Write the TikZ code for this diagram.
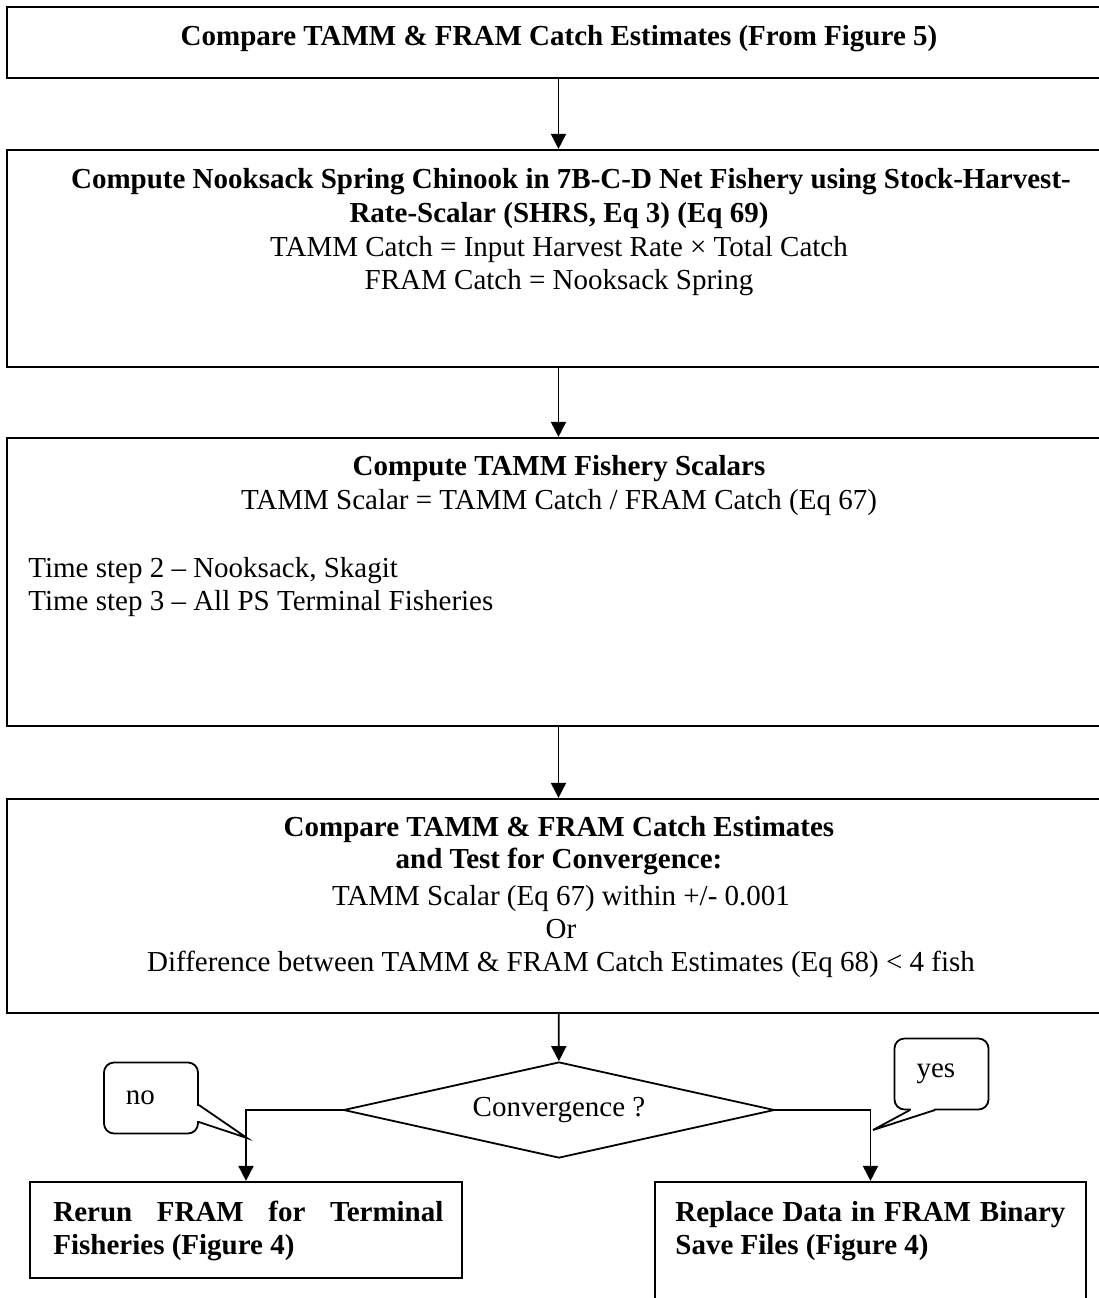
\documentclass[tikz,border=0pt]{standalone}
\usepackage{fontspec}
\setmainfont{Liberation Serif}
\usetikzlibrary{arrows.meta,shapes.geometric,positioning}

\begin{document}
\begin{tikzpicture}[
    x=0.5pt, y=-0.5pt,
    font=\fontsize{14.5}{17}\selectfont,
    stage/.style={draw=black, line width=1.1pt, minimum width=551.5pt, inner sep=0pt},
    bodyline/.style={anchor=base, inner sep=0pt},
    headline/.style={bodyline, font=\fontsize{14.5}{17}\selectfont\bfseries},
    flow/.style={line width=0.9pt, -{Triangle[length=7.5pt,width=7.5pt]}},
    remark/.style={draw=black, line width=0.9pt, rounded corners=5pt, minimum width=47pt, minimum height=35.5pt, inner xsep=11pt, text width=25pt, align=left},
]
\useasboundingbox (0,0) rectangle (1099,1298);
% stage boxes
\node[stage, minimum height=35.5pt] (compare) at (558.5,42.5) {};
\node[stage, minimum height=108.5pt] (nooksack) at (558.5,258.5) {};
\node[stage, minimum height=144pt] (scalars) at (558.5,582) {};
\node[stage, minimum height=107pt] (converge) at (558.5,906) {};
\node[diamond, draw=black, line width=0.9pt, aspect=4.49, minimum width=215.5pt, minimum height=48pt, inner sep=0pt] (test) at (559,1110) {Convergence ?};
\node[stage, minimum width=216pt, minimum height=48pt] (rerun) at (246,1230) {};
\node[stage, minimum width=215.5pt, minimum height=64pt] (replace) at (870.5,1246) {};
% texts
\node[headline] (compare-h) at (559,45) {Compare TAMM \& FRAM Catch Estimates (From Figure 5)};
\node[headline] (nooksack-h1) at (571,188) {Compute Nooksack Spring Chinook in 7B-C-D Net Fishery using Stock-Harvest-};
\node[headline] (nooksack-h2) at (559,222) {Rate-Scalar (SHRS, Eq 3) (Eq 69)};
\node[bodyline] (nooksack-b1) at (559,256) {TAMM Catch = Input Harvest Rate × Total Catch};
\node[bodyline] (nooksack-b2) at (559,289) {FRAM Catch = Nooksack Spring};
\node[headline] (scalars-h) at (559,475) {Compute TAMM Fishery Scalars};
\node[bodyline] (scalars-b) at (559,509) {TAMM Scalar = TAMM Catch / FRAM Catch (Eq 67)};
\node[bodyline, anchor=base west] (scalars-t2) at (28,577) {Time step 2 – Nooksack, Skagit};
\node[bodyline, anchor=base west] (scalars-t3) at (28,610) {Time step 3 – All PS Terminal Fisheries};
\node[headline] (converge-h1) at (559,836) {Compare TAMM \& FRAM Catch Estimates};
\node[headline] (converge-h2) at (559,868) {and Test for Convergence:};
\foreach \yy/\txt [count=\i] in {905/{TAMM Scalar (Eq 67) within +/- 0.001}, 938/Or, 971/{Difference between TAMM \& FRAM Catch Estimates (Eq 68) < 4 fish}} {
  \node[bodyline] (converge-b\i) at (561,\yy) {\txt};
}
\node[headline, anchor=base west] (rerun-1) at (53,1221) {\makebox[195pt][s]{Rerun FRAM for Terminal}};
\node[headline, anchor=base west] (rerun-2) at (53,1254) {Fisheries (Figure 4)};
\node[headline, anchor=base west] (replace-1) at (675,1221) {\makebox[195pt][s]{Replace Data in FRAM Binary}};
\node[headline, anchor=base west] (replace-2) at (675,1254) {Save Files (Figure 4)};
% connectors
\draw[flow] (compare) -- (nooksack);
\draw[flow] (nooksack) -- (scalars);
\draw[flow] (scalars) -- (converge);
\draw[flow] (converge) -- (test);
\draw[flow] (test.west) -| (rerun.north);
\draw[flow] (test.east) -| (replace.north);
% callouts
\node[remark] (nonote) at (151,1098) {no};
\node[remark] (yesnote) at (941.5,1074) {yes};
\coordinate (notip) at (247,1138);
\coordinate (yestip) at (873,1130);
\fill[white] (195,1106) rectangle (203,1121);
\draw[line width=0.9pt] (nonote.east |- 0,1105) -- (notip) -- (nonote.east |- 0,1122);
\fill[white] (911,1106) rectangle (934,1114);
\draw[line width=0.9pt] (910,1110) -- (yestip) -- (935,1110);
\end{tikzpicture}
\end{document}
